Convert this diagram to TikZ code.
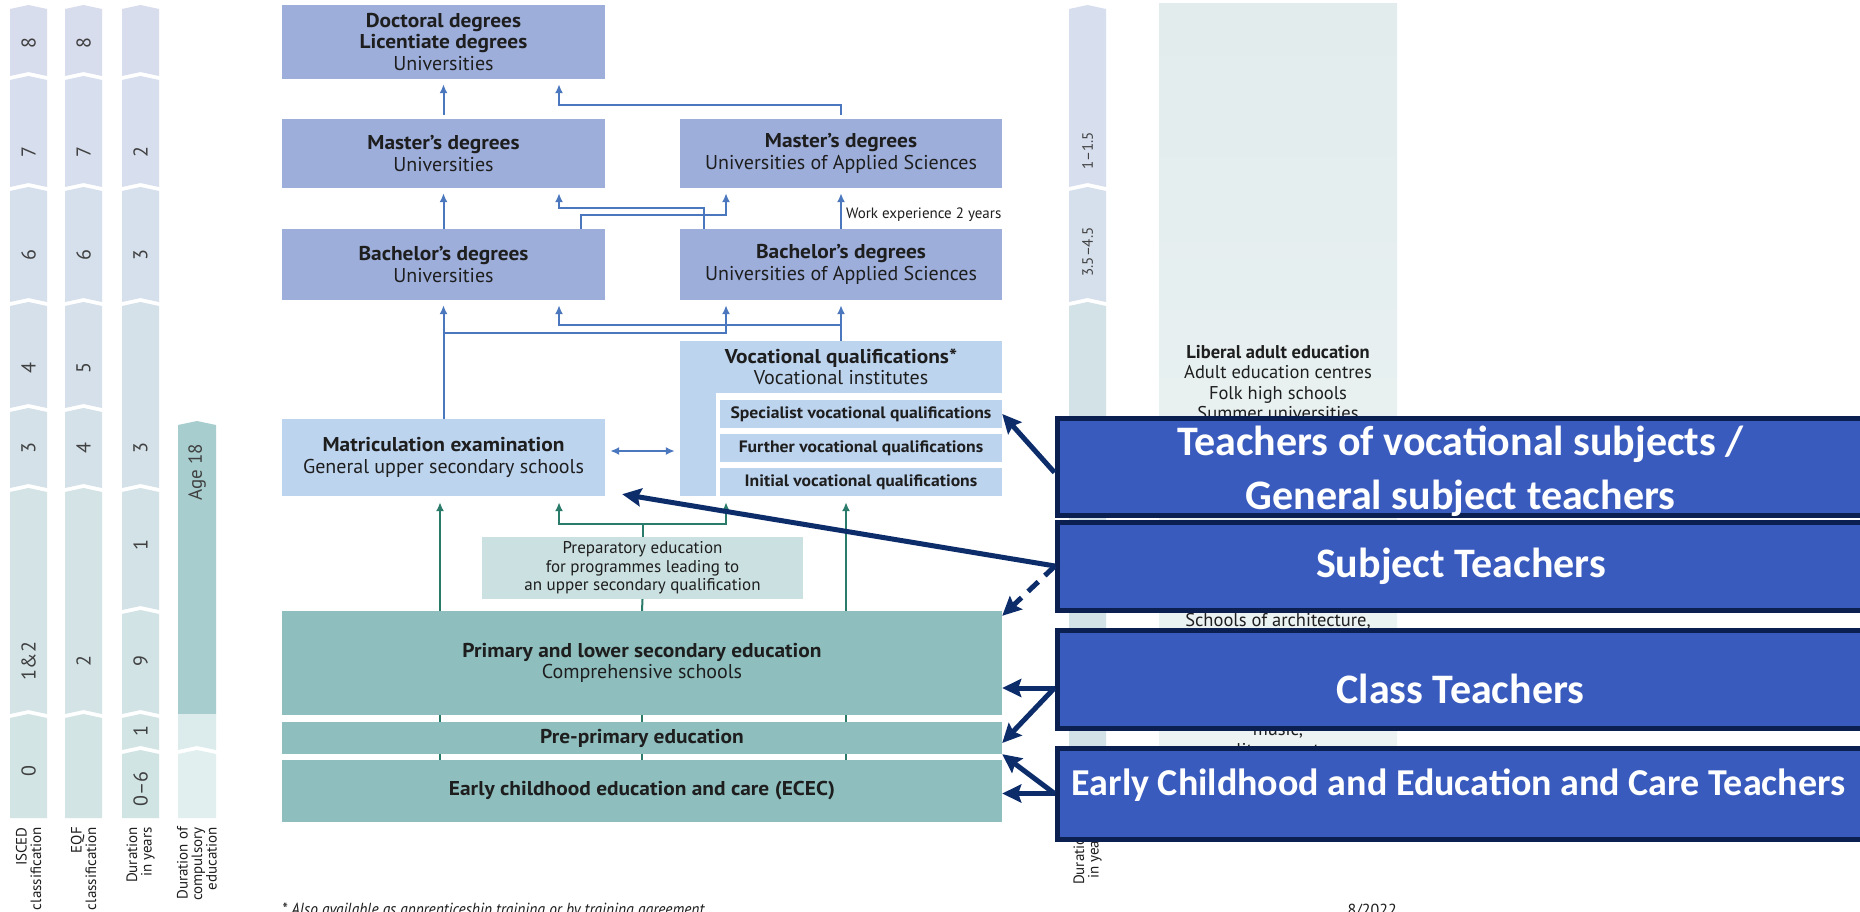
\documentclass[tikz,border=0pt]{standalone}
\usepackage{fontspec}
\setmainfont{PT Sans}
\newfontfamily\condfont[BoldFeatures={FakeStretch=1.07}]{PT Sans}
\newfontfamily\footfont[FakeStretch=0.88]{PT Sans}
\newfontfamily\calfont{Carlito}
\usepackage{xcolor}
\usepackage{tikz}
\usetikzlibrary{calc,arrows.meta,positioning}

\definecolor{degblue}{HTML}{9DAEDB}
\definecolor{lightblue}{HTML}{BDD4EF}
\definecolor{prepteal}{HTML}{CBE0E0}
\definecolor{boxteal}{HTML}{8EBEBE}
\definecolor{lineblue}{HTML}{4A77BE}
\definecolor{lineteal}{HTML}{2B7B6B}
\definecolor{navy}{HTML}{0C2C6A}
\definecolor{navyedge}{HTML}{0B2050}
\definecolor{teachblue}{HTML}{3A5BBE}
\definecolor{coltop}{HTML}{D8DDEF}
\definecolor{colbot}{HTML}{D1E5E3}
\definecolor{agedark}{HTML}{A8CDCE}
\definecolor{agelight}{HTML}{DCECEC}
\definecolor{agepale}{HTML}{E2EFEF}
\definecolor{paneltop}{HTML}{E2ECED}
\definecolor{panelbot}{HTML}{EEF4F4}
\definecolor{txt}{HTML}{1E1E1E}

\tikzset{
    degbox/.style={fill=degblue, inner sep=0pt, align=center, text=txt, font=\condfont\fontsize{20}{21.5}\selectfont},
    lightbox/.style={degbox, fill=lightblue},
    subbox/.style={fill=lightblue, inner sep=0pt, minimum width=282pt, minimum height=28pt, text=txt, font=\condfont\bfseries\fontsize{16.5}{17}\selectfont},
    prepbox/.style={degbox, fill=prepteal, font=\condfont\fontsize{17}{18.5}\selectfont},
    tealbox/.style={degbox, fill=boxteal, minimum width=720pt},
    bluearr/.style={draw=lineblue, line width=2pt, -{Latex[length=9pt,width=8pt]}, shorten >=5pt},
    tealarr/.style={draw=lineteal, line width=2pt, -{Latex[length=9pt,width=8pt]}, shorten >=6pt},
    navyarr/.style={draw=navy, line width=5pt, -{Stealth[length=19pt,width=18pt,inset=3pt]}},
    teachbox/.style={fill=teachblue, draw=navyedge, line width=5pt, minimum width=811pt, inner sep=0pt},
    teachtext/.style={inner sep=0pt, align=center, text=white, font=\calfont\bfseries\fontsize{42}{54}\selectfont},
    numlab/.style={rotate=90, inner sep=0pt, text=txt!85, font=\fontsize{20}{20}\selectfont},
    rnumlab/.style={rotate=90, inner sep=0pt, text=txt!85, font=\fontsize{15}{15}\selectfont},
    collab/.style={rotate=90, anchor=east, align=right, inner sep=0pt, text=txt, font=\fontsize{15}{14.5}\selectfont},
    paneltext/.style={anchor=base, inner sep=0pt, text=txt, font=\fontsize{18.5}{18.5}\selectfont}
}

\begin{document}
\begin{tikzpicture}[x=1pt, y=-1pt]

    \useasboundingbox (0,0) rectangle (1860,912);
    \clip (0,0) rectangle (1860,912);
    \fill[white] (0,0) rectangle (1860,912);

    \shade[top color=paneltop, bottom color=panelbot] (1159,4) rectangle (1397,818);
    \node[paneltext, font=\bfseries\fontsize{18.5}{18.5}\selectfont] (lae0) at (1278,358) {Liberal adult education};
    \foreach \t/\y [count=\k] in {Adult education centres/378.5, Folk high schools/399, Summer universities/419.5, {Schools of architecture,}/626, {music,}/735, literary art/756} {
        \node[paneltext] (lae\k) at (1278,\y) {\t};
    }

    \foreach \yt/\yb/\yl/\lab [count=\k] in {5/76/43/8, 76/187/152/7, 187/302/255/6, 302/408/368/4, 408/488/448/3, 488/714/661/1\&2, 714/818/771/0} {
        \pgfmathtruncatemacro\pc{(\yt+\yb)/16.36}
        \pgfmathsetmacro\nd{\yb>800 ? 0 : 4}
        \fill[colbot!\pc!coltop] (10,\yt+4) -- (28.5,\yt) -- (47,\yt+4) -- (47,\yb) -- (28.5,\yb-\nd) -- (10,\yb) -- cycle;
        \node[numlab] (isc\k) at (28.5,\yl) {\lab};
    }
    \foreach \yt/\yb/\yl/\lab [count=\k] in {5/76/43/8, 76/187/152/7, 187/302/255/6, 302/408/368/5, 408/488/448/4, 488/714/661/2, 714/818/771/{}} {
        \pgfmathtruncatemacro\pc{(\yt+\yb)/16.36}
        \pgfmathsetmacro\nd{\yb>800 ? 0 : 4}
        \fill[colbot!\pc!coltop] (65,\yt+4) -- (83.5,\yt) -- (102,\yt+4) -- (102,\yb) -- (83.5,\yb-\nd) -- (65,\yb) -- cycle;
        \node[numlab] (eqf\k) at (83.5,\yl) {\lab};
    }
    \foreach \yt/\yb/\yl/\lab [count=\k] in {5/76/43/{}, 76/187/152/2, 187/302/255/3, 302/488/448/3, 488/610/545/1, 610/714/661/9, 714/750/731/1, 750/818/789/0–6} {
        \pgfmathtruncatemacro\pc{(\yt+\yb)/16.36}
        \pgfmathsetmacro\nd{\yb>800 ? 0 : 4}
        \fill[colbot!\pc!coltop] (122,\yt+4) -- (140.5,\yt) -- (159,\yt+4) -- (159,\yb) -- (140.5,\yb-\nd) -- (122,\yb) -- cycle;
        \node[numlab] (dur\k) at (140.5,\yl) {\lab};
    }
    \foreach \yt/\yb/\yl/\lab [count=\k] in {5/187/151/1–1.5, 187/302/252/3.5–4.5, 302/818/560/{}} {
        \pgfmathtruncatemacro\pc{(\yt+\yb)/16.36}
        \pgfmathsetmacro\nd{\yb>800 ? 0 : 4}
        \fill[colbot!\pc!coltop] (1069,\yt+4) -- (1087.5,\yt) -- (1106,\yt+4) -- (1106,\yb) -- (1087.5,\yb-\nd) -- (1069,\yb) -- cycle;
        \node[rnumlab] (rdur\k) at (1087.5,\yl) {\lab};
    }
    \fill[agedark] (178,425) -- (197,421) -- (216,425) -- (216,714) -- (178,714) -- cycle;
    \fill[agelight] (178,714) -- (216,714) -- (216,750) -- (197,746) -- (178,750) -- cycle;
    \fill[agepale] (178,754) -- (197,750) -- (216,754) -- (216,818) -- (178,818) -- cycle;
    \node[numlab, font=\fontsize{19}{19}\selectfont] (age) at (197,472) {Age 18};

    \node[collab] (lisc) at (28.5,827) {ISCED\\classification};
    \node[collab] (leqf) at (83.5,827) {EQF\\classification};
    \node[collab] (ldur) at (140.5,827) {Duration\\in years};
    \node[collab] (lcomp) at (197,827) {Duration of\\compulsory\\education};
    \node[collab] (lrdur) at (1087.5,829) {Duration\\in years};

    \node[degbox, minimum width=323pt, minimum height=74pt] (doc) at (443.5,42) {\textbf{Doctoral degrees}\\\textbf{Licentiate degrees}\\Universities};
    \node[degbox, minimum width=323pt, minimum height=69pt] (mu) at (443.5,153.5) {\textbf{Master’s degrees}\\Universities};
    \node[degbox, minimum width=322pt, minimum height=69pt] (mas) at (841,153.5) {\textbf{Master’s degrees}\\Universities of Applied Sciences};
    \node[degbox, minimum width=323pt, minimum height=71pt] (bu) at (443.5,264.5) {\textbf{Bachelor’s degrees}\\Universities};
    \node[degbox, minimum width=322pt, minimum height=71pt] (bas) at (841,264.5) {\textbf{Bachelor’s degrees}\\Universities of Applied Sciences};
    \node[lightbox, minimum width=322pt, minimum height=52pt] (voc) at (841,367) {\textbf{Vocational qualifications*}\\Vocational institutes};
    \node[lightbox, minimum width=36pt, minimum height=104pt] (vocstrip) at (698,444) {};
    \node[subbox] (spec) at (861,414) {Specialist vocational qualifications};
    \node[subbox] (fur) at (861,448) {Further vocational qualifications};
    \node[subbox] (ini) at (861,482) {Initial vocational qualifications};
    \node[lightbox, minimum width=323pt, minimum height=77pt] (mat) at (443.5,457.5) {\textbf{Matriculation examination}\\General upper secondary schools};
    \node[prepbox, minimum width=321pt, minimum height=62pt] (prep) at (642.5,568) {Preparatory education\\for programmes leading to\\an upper secondary qualification};
    \node[tealbox, minimum height=104pt] (prim) at (642,663) {\textbf{Primary and lower secondary education}\\Comprehensive schools};
    \node[tealbox, minimum height=32pt] (pre) at (642,738) {\textbf{Pre-primary education}};
    \node[tealbox, minimum height=62pt] (ecec) at (642,791) {\textbf{Early childhood education and care (ECEC)}};

    \coordinate (c1) at (440,0);
    \coordinate (c2) at (559,0);
    \coordinate (c3) at (581,0);
    \coordinate (c4) at (704,0);
    \coordinate (c5) at (726,0);
    \coordinate (c6) at (846,0);

    \draw[bluearr, shorten <=4pt] (mu.north) -- (doc.south);
    \draw[bluearr, shorten <=4pt] (mas.north) -- ++(0,-14) -| (doc.south -| c2);
    \draw[bluearr] (bu.north) -- (mu.south);
    \draw[bluearr] (bu.north -| c3) -- ++(0,-14) -| (mas.south -| c5);
    \draw[bluearr] (bas.north -| c4) -- ++(0,-21) -| (mu.south -| c2);
    \draw[bluearr] (bas.north) -- (mas.south) node[pos=0.35, anchor=west, xshift=4pt, inner sep=0pt, text=txt, font=\fontsize{15}{15}\selectfont] (work) {Work experience 2 years};
    \draw[bluearr] (mat.north) -- (bu.south);
    \draw[bluearr] ($(mat.north)+(0,-86)$) -| (bas.south -| c5);
    \draw[bluearr] (voc.north) -- ++(0,-16) -| (bu.south -| c2);
    \draw[bluearr] (voc.north) -- (bas.south);
    \coordinate (mx) at ([yshift=6.5pt]mat.east);
    \draw[bluearr, {Latex[length=9pt,width=8pt]}-{Latex[length=9pt,width=8pt]}, shorten <=5pt] (mx) -- (mx -| vocstrip.west);

    \draw[tealarr] (prim.north -| c1) -- (mat.south -| c1);
    \draw[tealarr] (prep.north) -- ++(0,-13) -| (mat.south -| c2);
    \draw[tealarr] (prep.north) -- ++(0,-13) -| (ini.south -| c5);
    \draw[tealarr] (prim.north -| c6) -- (ini.south -| c6);
    \draw[lineteal, line width=2pt] (prim.north) -- (prep.south);
    \foreach \c in {c1,prim,c6} {
        \draw[lineteal, line width=2pt] (prim.south -| \c) -- (pre.north -| \c);
        \draw[lineteal, line width=2pt] (pre.south -| \c) -- (ecec.north -| \c);
    }

    \node[anchor=base west, inner sep=0pt, text=txt, font=\footfont\itshape\fontsize{17.5}{17.5}\selectfont] (foot) at (282,915) {* Also available as apprenticeship training or by training agreement};
    \node[anchor=base east, inner sep=0pt, text=txt, font=\fontsize{16}{16}\selectfont] (date) at (1397,915) {8/2022};

    \node[teachbox, minimum height=97pt] (tvoc) at (1462.5,466.5) {};
    \node[teachtext] (tvoctxt) at ([xshift=-2pt, yshift=-5pt]tvoc.center) {Teachers of vocational subjects /\\General subject teachers};
    \node[teachbox, minimum height=88pt] (tsub) at (1463,566) {};
    \node[teachtext] (tsubtxt) at ([xshift=-2pt]tsub.center) {Subject Teachers};
    \node[teachbox, minimum height=98pt] (tcls) at (1462.5,679) {};
    \node[teachtext] (tclstxt) at ([xshift=-2pt, yshift=-10pt]tcls.center) {Class Teachers};
    \node[teachbox, minimum height=91pt] (tecec) at (1462.5,793.5) {};
    \node[teachtext, font=\calfont\bfseries\fontsize{38}{46}\selectfont] (tecectxt) at ([xshift=-4pt, yshift=8pt]tecec.center) {Early Childhood and Education and Care Teachers};

    \coordinate (cls) at ([yshift=-9pt]tcls.west);
    \draw[navyarr] ([yshift=-6pt]tvoc.west) -- (spec.east);
    \draw[navyarr] (tsub.west) -- ([xshift=17pt, yshift=2pt]mat.south east);
    \draw[navyarr, dash pattern=on 14pt off 9pt] (tsub.west) -- ([yshift=-5pt]prim.north east);
    \draw[navyarr] (cls) -- (cls -| prim.east);
    \draw[navyarr] (cls) -- ([yshift=-5pt]pre.east);
    \draw[navyarr] (tecec.west) -- (pre.south east);
    \draw[navyarr] (tecec.west) -- (tecec.west -| ecec.east);
\end{tikzpicture}
\end{document}
